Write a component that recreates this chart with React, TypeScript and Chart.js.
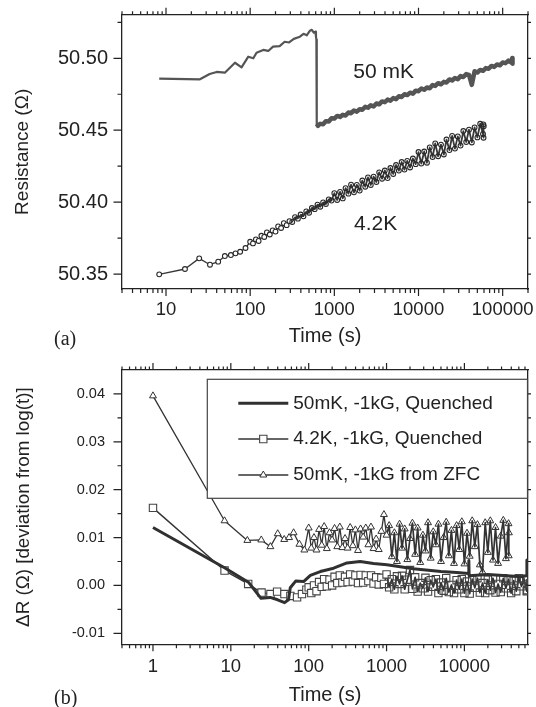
import React, { useEffect, useRef } from 'react';
import { Chart, registerables } from 'chart.js';

Chart.register(...registerables);

const SANS = "'Liberation Sans', Arial, Helvetica, sans-serif";
const SERIF = "'Liberation Serif', 'Times New Roman', Times, serif";
const INK = '#222222';
const CLEAR = 'rgba(255,255,255,0)';

// Sampling times shared by the dense (noisy) parts of the long-time records, in seconds
const T_GRID = [
  100, 108, 117, 126, 136, 147, 158, 171, 185, 200, 215, 233, 251, 271, 293, 316, 341, 369, 398, 430, 464, 501, 541, 584, 631, 681, 736, 794, 858, 926,
  1000, 1080, 1170, 1260, 1360, 1470, 1580, 1710, 1850, 2000, 2150, 2330, 2510, 2710, 2930, 3160, 3410, 3690, 3980, 4300, 4640, 5010, 5410, 5840, 6310, 6810, 7360, 7940, 8580, 9260,
  10000, 10800, 11700, 12600, 13600, 14700, 15800, 17100, 18500, 20000, 21500, 23300, 25100, 27100, 29300, 31600, 34100, 36900, 39800, 43000, 46400, 50100, 54100, 58400, 63100, 68100, 73600, 79400, 85800, 92600,
  100000, 108000, 117000, 126000,
];

// ---------------- Panel (a): Resistance vs time ----------------
// 50 mK record: early part and the drop
const A_T50_HEAD = [8.3, 25.3, 33, 40, 50, 66, 79, 95, 109, 119,
  143, 164, 187, 224, 257, 290, 330, 390, 430, 470,
  513, 540, 570, 595, 605, 612, 618, 640, 660];
const A_R50_HEAD = [50.4858, 50.4854, 50.4891, 50.4905, 50.4900, 50.4969, 50.4937, 50.5011, 50.5000, 50.5039,
  50.5058, 50.5051, 50.5081, 50.5085, 50.5115, 50.5110, 50.5135, 50.5150, 50.5170, 50.5160,
  50.5192, 50.5198, 50.5178, 50.5185, 50.5150, 50.5130, 50.4545, 50.4530, 50.4540];
// 50 mK record after the drop, at T_GRID[25..93]
const A_R50_BAND = [50.4544, 50.4542, 50.4563, 50.4560, 50.4583,
  50.4581, 50.4599, 50.4592, 50.4607, 50.4602, 50.4623, 50.4618, 50.4637, 50.4629, 50.4646,
  50.4642, 50.4663, 50.4656, 50.4673, 50.4665, 50.4686, 50.4680, 50.4700, 50.4695, 50.4713,
  50.4705, 50.4723, 50.4716, 50.4736, 50.4731, 50.4750, 50.4744, 50.4761, 50.4754, 50.4775,
  50.4771, 50.4790, 50.4781, 50.4797, 50.4792, 50.4814, 50.4808, 50.4827, 50.4819, 50.4836,
  50.4832, 50.4853, 50.4846, 50.4863, 50.4855, 50.4876, 50.4870, 50.4890, 50.4885, 50.4815,
  50.4910, 50.4901, 50.4919, 50.4913, 50.4932, 50.4927, 50.4947, 50.4940, 50.4957, 50.4951,
  50.4971, 50.4966, 50.4984, 50.4971];
const A_T50_TAIL = [130000, 131000];
const A_R50_TAIL = [50.5002, 50.4962];

// 4.2 K record: early points, then T_GRID[0..83], then the end cluster
const A_T42_HEAD = [8.3, 16.8, 24.8, 33.3, 41.7, 50, 59, 67, 76, 88];
const A_R42_HEAD = [50.3498, 50.3535, 50.3609, 50.3565, 50.3586, 50.3625, 50.3632, 50.3644, 50.3655, 50.3681];
const A_R42_BAND = [
  50.3724, 50.3713, 50.3741, 50.3730, 50.3766, 50.3758, 50.3789, 50.3775, 50.3803, 50.3795,
  50.3831, 50.3820, 50.3854, 50.3840, 50.3868, 50.3862, 50.3896, 50.3885, 50.3914, 50.3901,
  50.3936, 50.3926, 50.3959, 50.3951, 50.3982, 50.3968, 50.3998, 50.3987, 50.4019, 50.4011,
  50.4062, 50.4015, 50.4071, 50.4026, 50.4097, 50.4059, 50.4121, 50.4068, 50.4120, 50.4080,
  50.4150, 50.4107, 50.4172, 50.4119, 50.4177, 50.4140, 50.4207, 50.4163, 50.4220, 50.4167,
  50.4237, 50.4196, 50.4258, 50.4219, 50.4279, 50.4226, 50.4287, 50.4241, 50.4303, 50.4264,
  50.4348, 50.4268, 50.4352, 50.4274, 50.4380, 50.4314, 50.4408, 50.4319, 50.4400, 50.4331,
  50.4435, 50.4362, 50.4460, 50.4372, 50.4457, 50.4393, 50.4494, 50.4418, 50.4504, 50.4415,
  50.4519, 50.4450, 50.4545, 50.4474];
const A_T42_TAIL = [59000, 59300, 59600];
const A_R42_TAIL = [50.4540, 50.4448, 50.4528];

const A_X_RANGE = [3, 200000];
const A_Y_RANGE = [50.3396, 50.5303];
const A_X_LABELS = [10, 100, 1000, 10000, 100000];
const A_Y_LABELS = [50.35, 50.40, 50.45, 50.50];
const A_Y_TICKS = [50.35, 50.375, 50.40, 50.425, 50.45, 50.475, 50.50, 50.525];
const A_NOTES = [
  { text: '50 mK', t: 3855, r: 50.4901 },
  { text: '4.2K', t: 3100, r: 50.3848 },
];

// ---------------- Panel (b): deviation from log(t) ----------------
const B_T_Q50 = [1, 8.3, 17, 24.4, 32, 40, 49, 55, 58, 68,
  86, 105, 141, 209, 310, 458, 680, 1010, 1500, 2200,
  3200, 5000, 8000, 11300, 11400, 11500, 20000, 35000, 55000, 62000,
  63500, 64500];
const B_D_Q50 = [0.0121, 0.0037, 0.0006, -0.0027, -0.0025, -0.0030, -0.0036, -0.0030, -0.0005, 0.0009,
  0.0008, 0.0021, 0.0029, 0.0036, 0.0047, 0.0050, 0.0046, 0.0043, 0.0039, 0.0035,
  0.0032, 0.0029, 0.0027, 0.0025, 0.0052, 0.0020, 0.0023, 0.0020, 0.0018, 0.0020,
  0.0053, 0.0022];

// 4.2 K quenched: early points, then T_GRID[0..84], then end cluster
const B_T_Q42_HEAD = [1, 8.3, 16.7, 24.8, 32.3, 39.3, 48.8, 58.2, 70.9, 82, 93.4];
const B_D_Q42_HEAD = [0.0162, 0.0031, 0.0003, -0.0015, -0.0018, -0.0013, -0.0018, -0.0022, -0.0025, -0.0018, -0.0009];
const B_D_Q42_BAND = [
  -0.0004, -0.0016, 0.0000, -0.0012, 0.0007, -0.0003, 0.0013, -0.0002, 0.0012, 0.0000,
  0.0018, 0.0005, 0.0021, 0.0006, 0.0018, 0.0007, 0.0023, 0.0008, 0.0021, 0.0005,
  0.0022, 0.0006, 0.0021, 0.0009, 0.0021, 0.0004, 0.0017, 0.0002, 0.0016, 0.0003,
  0.0023, -0.0004, 0.0013, -0.0008, 0.0019, 0.0003, 0.0020, -0.0008, 0.0012, 0.0032,
  -0.0007, 0.0017, -0.0013, 0.0005, -0.0006, 0.0016, -0.0013, 0.0011, -0.0003, 0.0013,
  -0.0016, 0.0006, -0.0011, 0.0015, -0.0014, 0.0001, -0.0016, 0.0011, -0.0008, 0.0013,
  -0.0016, 0.0008, -0.0017, 0.0013, -0.0005, 0.0015, -0.0015, 0.0005, -0.0016, 0.0012,
  -0.0010, 0.0015, -0.0015, 0.0003, -0.0014, 0.0015, -0.0006, 0.0013, -0.0016, 0.0010,
  -0.0012, 0.0015, -0.0002, 0.0014, -0.0012];
const B_T_Q42_TAIL = [63600, 64200, 64800];
const B_D_Q42_TAIL = [0.0012, -0.0010, 0.0003];

// 50 mK from ZFC: early points, then T_GRID[0..77], then end cluster
const B_T_ZFC_HEAD = [1, 8.3, 16.3, 24.6, 32.2, 40, 48.5, 56, 64, 76, 88];
const B_D_ZFC_HEAD = [0.0396, 0.0135, 0.0094, 0.0095, 0.0081, 0.0108, 0.0096, 0.0100, 0.0110, 0.0086, 0.0074];
const B_D_ZFC_BAND = [
  0.0120, 0.0078, 0.0100, 0.0074, 0.0117, 0.0084, 0.0123, 0.0077, 0.0110, 0.0095,
  0.0119, 0.0081, 0.0122, 0.0079, 0.0098, 0.0078, 0.0121, 0.0083, 0.0116, 0.0073,
  0.0118, 0.0101, 0.0120, 0.0085, 0.0122, 0.0077, 0.0097, 0.0075, 0.0113, 0.0148,
  0.0105, 0.0125, 0.0060, 0.0110, 0.0050, 0.0128, 0.0078, 0.0118, 0.0054, 0.0098,
  0.0130, 0.0065, 0.0120, 0.0048, 0.0105, 0.0072, 0.0131, 0.0057, 0.0112, 0.0085,
  0.0128, 0.0050, 0.0100, 0.0132, 0.0062, 0.0115, 0.0046, 0.0125, 0.0075, 0.0133,
  0.0045, 0.0109, 0.0061, 0.0135, 0.0081, 0.0127, 0.0043, 0.0028, 0.0131, 0.0069,
  0.0135, 0.0053, 0.0121, 0.0046, 0.0103, 0.0136, 0.0056, 0.0129];
const B_T_ZFC_TAIL = [37100, 37300];
const B_D_ZFC_TAIL = [0.0062, 0.0110];

const B_X_RANGE = [0.4, 65600];
const B_Y_RANGE = [-0.0123, 0.0450];
const B_X_LABELS = [1, 10, 100, 1000, 10000];
const B_Y_LABELS = [-0.01, 0.0, 0.01, 0.02, 0.03, 0.04];
const B_Y_TICKS = [-0.01, -0.005, 0, 0.005, 0.01, 0.015, 0.02, 0.025, 0.03, 0.035, 0.04];
const B_LEGEND = ['50mK, -1kG, Quenched', '4.2K, -1kG, Quenched', '50mK, -1kG from ZFC'];

// ---------------- helpers ----------------
const pts = (T: number[], V: number[]) => T.map((x, i) => ({ x, y: V[i] }));
const series = (headT: number[], headV: number[], g0: number, bandV: number[], tailT: number[], tailV: number[]) =>
  pts(headT, headV).concat(pts(T_GRID.slice(g0, g0 + bandV.length), bandV), pts(tailT, tailV));
// open markers: white-filled where sparse, see-through inside the dense band
const openFill = (tDense: number) => (c: any) => (c.raw && c.raw.x > tDense ? CLEAR : '#ffffff');
// heavier connecting line inside the dense band
const bandWidth = (fromIndex: number, thin: number, thick: number) => (c: any) => (c.p0DataIndex >= fromIndex ? thick : thin);

function logTicks(lo: number, hi: number): number[] {
  const out: number[] = [];
  for (let e = Math.floor(Math.log10(lo)); e <= Math.ceil(Math.log10(hi)); e++) {
    for (let m = 1; m <= 9; m++) {
      const v = m * Math.pow(10, e);
      if (v >= lo * 0.9999 && v <= hi * 1.0001) out.push(v);
    }
  }
  return out;
}
const isPow10 = (v: number) => Math.abs(Math.log10(v) - Math.round(Math.log10(v))) < 1e-6;
const inList = (list: number[]) => (v: number) => list.some((l) => Math.abs(l - v) < 1e-7);

function tickMarks(specs: any[]) {
  return {
    id: 'tickMarks',
    afterDraw(chart: any) {
      const ctx = chart.ctx;
      ctx.save();
      ctx.strokeStyle = INK;
      ctx.lineWidth = 1.2;
      ctx.beginPath();
      for (const sp of specs) {
        const s = chart.scales[sp.id];
        for (const v of sp.values) {
          const p = s.getPixelForValue(v);
          const len = sp.isMajor(v) ? sp.major : sp.minor;
          if (s.position === 'bottom') { ctx.moveTo(p, s.top); ctx.lineTo(p, s.top + len); }
          else if (s.position === 'top') { ctx.moveTo(p, s.bottom); ctx.lineTo(p, s.bottom - len); }
          else if (s.position === 'left') { ctx.moveTo(s.right, p); ctx.lineTo(s.right - len, p); }
          else { ctx.moveTo(s.left, p); ctx.lineTo(s.left + len, p); }
        }
      }
      ctx.stroke();
      ctx.restore();
    },
  };
}

const border = { display: true, color: INK, width: 1.3 };
const noGrid = { display: false, drawTicks: false };
// fixed box sizes; label overhang must not move the plot frame
const fixH = (h: number) => (s: any) => { s.height = h; s.paddingLeft = 0; s.paddingRight = 0; s.paddingTop = 0; s.paddingBottom = 0; };
const fixW = (w: number) => (s: any) => { s.width = w; s.paddingLeft = 0; s.paddingRight = 0; s.paddingTop = 0; s.paddingBottom = 0; };

function xAxis(range: number[], ticks: number[], labels: number[], size: number, fontSize: number, pad: number, titlePadBottom: number) {
  return {
    type: 'logarithmic', position: 'bottom', min: range[0], max: range[1],
    afterBuildTicks: (s: any) => { s.ticks = ticks.map((v) => ({ value: v })); },
    afterFit: fixH(size),
    grid: noGrid, border,
    ticks: {
      autoSkip: false, maxRotation: 0, minRotation: 0, padding: pad, color: INK,
      font: { family: SANS, size: fontSize },
      callback: (v: number) => (inList(labels)(v) ? String(Math.round(v)) : ''),
    },
    title: { display: true, text: 'Time (s)', color: INK, font: { family: SANS, size: 20, lineHeight: 1.2 }, padding: { top: 0, bottom: titlePadBottom } },
  };
}
function xTopAxis(range: number[], ticks: number[], size: number) {
  return {
    type: 'logarithmic', position: 'top', min: range[0], max: range[1],
    afterBuildTicks: (s: any) => { s.ticks = ticks.map((v) => ({ value: v })); },
    afterFit: fixH(size),
    grid: noGrid, border, ticks: { display: false },
  };
}
function yAxis(range: number[], ticks: number[], labels: number[], size: number, fontSize: number, pad: number, title: string, titleSize: number, titlePad: number) {
  return {
    type: 'linear', position: 'left', min: range[0], max: range[1],
    afterBuildTicks: (s: any) => { s.ticks = ticks.map((v) => ({ value: v })); },
    afterFit: fixW(size),
    grid: noGrid, border,
    ticks: {
      autoSkip: false, padding: pad, color: INK,
      font: { family: SANS, size: fontSize },
      callback: (v: number) => (inList(labels)(v) ? v.toFixed(2) : ''),
    },
    title: { display: true, text: title, color: INK, font: { family: SANS, size: titleSize, lineHeight: 1.2 }, padding: { top: titlePad, bottom: 0 } },
  };
}
function yRightAxis(range: number[], ticks: number[], size: number) {
  return {
    type: 'linear', position: 'right', min: range[0], max: range[1],
    afterBuildTicks: (s: any) => { s.ticks = ticks.map((v) => ({ value: v })); },
    afterFit: fixW(size),
    grid: noGrid, border, ticks: { display: false },
  };
}

const baseOptions = {
  responsive: false,
  maintainAspectRatio: false,
  devicePixelRatio: 1,
  animation: false,
  events: [],
  layout: { padding: 0 },
};

function buildTop(): any {
  const xt = logTicks(A_X_RANGE[0], A_X_RANGE[1]);
  const notes = {
    id: 'notes',
    afterDatasetsDraw(chart: any) {
      const ctx = chart.ctx;
      ctx.save();
      ctx.font = `21px ${SANS}`;
      ctx.fillStyle = INK;
      ctx.textAlign = 'center';
      ctx.textBaseline = 'middle';
      for (const n of A_NOTES) {
        ctx.fillText(n.text, chart.scales.x.getPixelForValue(n.t), chart.scales.y.getPixelForValue(n.r));
      }
      ctx.restore();
    },
  };
  return {
    type: 'line',
    data: {
      datasets: [
        {
          label: '50 mK', data: series(A_T50_HEAD, A_R50_HEAD, 25, A_R50_BAND, A_T50_TAIL, A_R50_TAIL),
          borderColor: '#555555', borderWidth: 2.2, borderJoinStyle: 'round',
          segment: { borderWidth: bandWidth(A_T50_HEAD.length - 3, 2.2, 4.5) },
          pointRadius: 0, pointHoverRadius: 0, tension: 0, order: 1,
        },
        {
          label: '4.2K', data: series(A_T42_HEAD, A_R42_HEAD, 0, A_R42_BAND, A_T42_TAIL, A_R42_TAIL),
          borderColor: '#383838', borderWidth: 1.3, borderJoinStyle: 'round',
          segment: { borderWidth: bandWidth(A_T42_HEAD.length + 20, 1.3, 1.8) },
          pointRadius: 2.4, pointBorderWidth: 1.1, pointBorderColor: '#282828', pointBackgroundColor: openFill(300),
          tension: 0, order: 0,
        },
      ],
    },
    options: {
      ...baseOptions,
      plugins: { legend: { display: false }, tooltip: { enabled: false } },
      scales: {
        x: xAxis(A_X_RANGE, xt, A_X_LABELS, 66, 18.5, 9.4, 7),
        xTop: xTopAxis(A_X_RANGE, xt, 14.7),
        y: yAxis(A_Y_RANGE, A_Y_TICKS, A_Y_LABELS, 122, 20, 14, 'Resistance (\u03A9)', 19, 11),
        yRight: yRightAxis(A_Y_RANGE, A_Y_TICKS, 8),
      },
    },
    plugins: [
      notes,
      tickMarks([
        { id: 'x', values: xt, isMajor: isPow10, major: 7, minor: 4 },
        { id: 'xTop', values: xt, isMajor: isPow10, major: 7, minor: 3.5 },
        { id: 'y', values: A_Y_TICKS, isMajor: inList(A_Y_LABELS), major: 8.5, minor: 4.5 },
        { id: 'yRight', values: A_Y_TICKS, isMajor: inList(A_Y_LABELS), major: 3, minor: 3 },
      ]),
    ],
  };
}

function buildBottom(): any {
  const xt = logTicks(B_X_RANGE[0], B_X_RANGE[1]);
  const legend = {
    id: 'boxLegend',
    afterDatasetsDraw(chart: any) {
      const a = chart.chartArea;
      const ctx = chart.ctx;
      const x0 = a.left + 85.3, y0 = a.top + 9.3, x1 = a.right - 0.5, y1 = a.top + 128.3;
      ctx.save();
      ctx.fillStyle = '#ffffff';
      ctx.fillRect(x0, y0, x1 - x0, y1 - y0);
      ctx.strokeStyle = '#444444';
      ctx.lineWidth = 1.2;
      ctx.strokeRect(x0, y0, x1 - x0, y1 - y0);
      const rows = [33.3, 69, 105];
      chart.data.datasets.forEach((ds: any, i: number) => {
        const cy = a.top + rows[i];
        const lx0 = a.left + 116.3, lx1 = a.left + 166.3, cx = (lx0 + lx1) / 2;
        ctx.strokeStyle = ds.borderColor;
        ctx.lineWidth = ds.borderWidth;
        ctx.beginPath(); ctx.moveTo(lx0, cy); ctx.lineTo(lx1, cy); ctx.stroke();
        if (ds.pointRadius > 0) {
          const r = ds.pointRadius;
          ctx.beginPath();
          if (ds.pointStyle === 'rect') {
            const h = Math.SQRT1_2 * r;
            ctx.rect(cx - h, cy - h, 2 * h, 2 * h);
          } else {
            ctx.moveTo(cx, cy - r);
            ctx.lineTo(cx + 0.866 * r, cy + 0.5 * r);
            ctx.lineTo(cx - 0.866 * r, cy + 0.5 * r);
            ctx.closePath();
          }
          ctx.fillStyle = '#ffffff';
          ctx.fill();
          ctx.strokeStyle = ds.pointBorderColor;
          ctx.lineWidth = ds.pointBorderWidth;
          ctx.stroke();
        }
        ctx.font = `19px ${SANS}`;
        ctx.fillStyle = INK;
        ctx.textAlign = 'left';
        ctx.textBaseline = 'middle';
        ctx.fillText(B_LEGEND[i], a.left + 171.3, cy);
      });
      ctx.restore();
    },
  };
  return {
    type: 'line',
    data: {
      datasets: [
        {
          label: B_LEGEND[0], data: pts(B_T_Q50, B_D_Q50), borderColor: '#303030', borderWidth: 3,
          borderJoinStyle: 'round', pointRadius: 0, pointHoverRadius: 0, tension: 0, order: 0,
        },
        {
          label: B_LEGEND[1], data: series(B_T_Q42_HEAD, B_D_Q42_HEAD, 0, B_D_Q42_BAND, B_T_Q42_TAIL, B_D_Q42_TAIL),
          borderColor: '#333333', borderWidth: 1.4, borderJoinStyle: 'round',
          segment: { borderWidth: bandWidth(B_T_Q42_HEAD.length + 30, 1.4, 1.7) },
          pointStyle: 'rect', pointRadius: 5.2, pointBorderWidth: 1.1, pointBorderColor: '#444444',
          pointBackgroundColor: openFill(1000), tension: 0, order: 1,
        },
        {
          label: B_LEGEND[2], data: series(B_T_ZFC_HEAD, B_D_ZFC_HEAD, 0, B_D_ZFC_BAND, B_T_ZFC_TAIL, B_D_ZFC_TAIL),
          borderColor: '#333333', borderWidth: 1.3, borderJoinStyle: 'round',
          segment: { borderWidth: bandWidth(B_T_ZFC_HEAD.length + 30, 1.3, 1.7) },
          pointStyle: 'triangle', pointRadius: 4, pointBorderWidth: 1, pointBorderColor: '#333333',
          pointBackgroundColor: openFill(1000), tension: 0, order: 2,
        },
      ],
    },
    options: {
      ...baseOptions,
      plugins: { legend: { display: false }, tooltip: { enabled: false } },
      scales: {
        x: xAxis(B_X_RANGE, xt, B_X_LABELS, 62.7, 18.5, 11.6, 0),
        xTop: xTopAxis(B_X_RANGE, xt, 15),
        y: yAxis(B_Y_RANGE, B_Y_TICKS, B_Y_LABELS, 122, 14.5, 17, '\u0394R (\u03A9) [deviation from log(t)]', 18.8, 13),
        yRight: yRightAxis(B_Y_RANGE, B_Y_TICKS, 8),
      },
    },
    plugins: [
      legend,
      tickMarks([
        { id: 'x', values: xt, isMajor: isPow10, major: 7, minor: 4 },
        { id: 'xTop', values: xt, isMajor: isPow10, major: 7, minor: 3.5 },
        { id: 'y', values: B_Y_TICKS, isMajor: inList(B_Y_LABELS), major: 8.5, minor: 4.5 },
        { id: 'yRight', values: B_Y_TICKS, isMajor: inList(B_Y_LABELS), major: 3, minor: 3 },
      ]),
    ],
  };
}

export default function App() {
  const topRef = useRef<HTMLCanvasElement>(null);
  const botRef = useRef<HTMLCanvasElement>(null);
  useEffect(() => {
    const a = new Chart(topRef.current as HTMLCanvasElement, buildTop());
    const b = new Chart(botRef.current as HTMLCanvasElement, buildBottom());
    return () => { a.destroy(); b.destroy(); };
  }, []);
  const panelLabel: React.CSSProperties = {
    position: 'absolute', left: 54, fontFamily: SERIF, fontSize: 20, lineHeight: '20px', color: INK,
  };
  return (
    <div style={{ position: 'absolute', left: 0, top: 0, width: 536, height: 707, background: '#ffffff', overflow: 'hidden' }}>
      <canvas ref={topRef} width={536} height={355} style={{ position: 'absolute', left: 0, top: 0, width: 536, height: 355 }} />
      <canvas ref={botRef} width={536} height={352} style={{ position: 'absolute', left: 0, top: 355, width: 536, height: 352 }} />
      <div style={{ ...panelLabel, top: 328 }}>(a)</div>
      <div style={{ ...panelLabel, top: 687 }}>(b)</div>
    </div>
  );
}
